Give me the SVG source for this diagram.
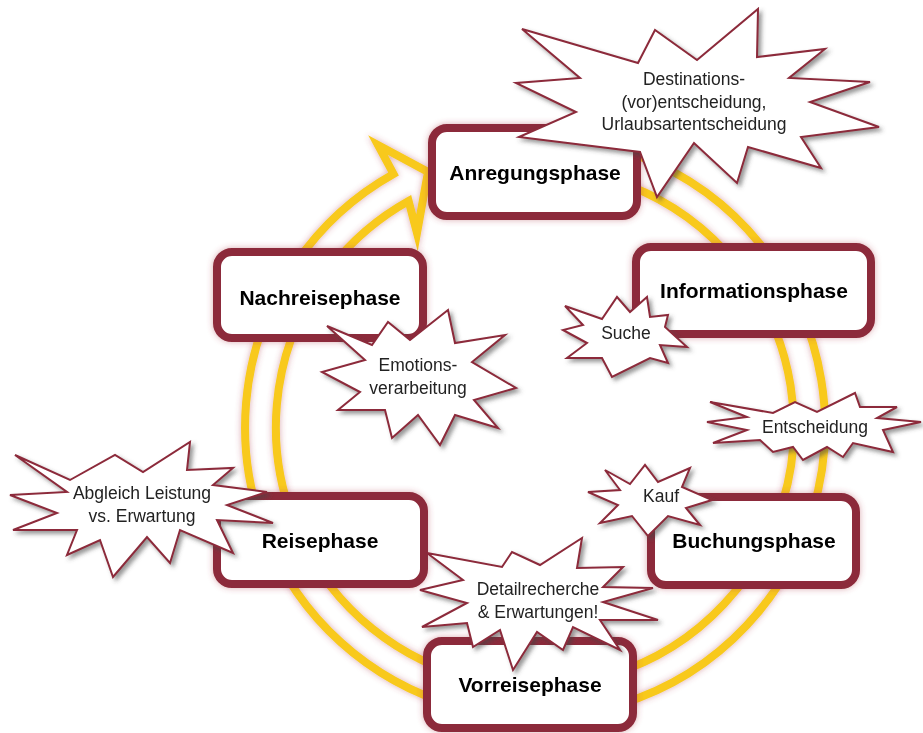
<svg xmlns="http://www.w3.org/2000/svg" width="923" height="733" viewBox="0 0 923 733">
<defs>
<filter id="glow" x="-20%" y="-20%" width="140%" height="140%">
<feDropShadow dx="0" dy="0" stdDeviation="3" flood-color="#b0404f" flood-opacity="0.45"/>
</filter>
<filter id="shadow" x="-20%" y="-20%" width="140%" height="140%">
<feDropShadow dx="3" dy="3" stdDeviation="2" flood-color="#444" flood-opacity="0.55"/>
</filter>
<style>
.ring{fill:none;stroke:#F8C91A;stroke-width:8;stroke-linejoin:miter;stroke-miterlimit:10}
.box{fill:#fff;stroke:#8C2A3A;stroke-width:8}
.burst{fill:#fff;stroke:#8C2A3A;stroke-width:2;stroke-linejoin:miter}
.bt{font-family:"Liberation Sans",Arial,sans-serif;font-weight:bold;font-size:21px;fill:#000;text-anchor:middle}
.st{font-family:"Liberation Sans",Arial,sans-serif;font-size:17.5px;fill:#222;text-anchor:middle}
</style>
</defs>
<rect width="923" height="733" fill="#fff"/>
<g id="connectors" filter="url(#glow)">
<path class="ring" d="M509.7,138.1 A290,290 0 1 1 393.5,173.9 L378,145 L428,172 L417,233 L408.6,200.9 A259,259 0 1 0 512.4,169"/>
</g>
<g id="anregungsphase" filter="url(#glow)">
<rect class="box" x="432" y="128" width="205" height="88" rx="15"/>
<text class="bt" x="535" y="180">Anregungsphase</text>
</g>
<g id="informationsphase" filter="url(#glow)">
<rect class="box" x="636" y="247" width="235" height="87" rx="15"/>
<text class="bt" x="754" y="298">Informationsphase</text>
</g>
<g id="nachreisephase" filter="url(#glow)">
<rect class="box" x="217" y="252" width="206" height="86" rx="15"/>
<text class="bt" x="320" y="305">Nachreisephase</text>
</g>
<g id="reisephase" filter="url(#glow)">
<rect class="box" x="217" y="496" width="207" height="88" rx="15"/>
<text class="bt" x="320" y="548">Reisephase</text>
</g>
<g id="buchungsphase" filter="url(#glow)">
<rect class="box" x="651" y="497" width="205" height="88" rx="15"/>
<text class="bt" x="754" y="548">Buchungsphase</text>
</g>
<g id="vorreisephase" filter="url(#glow)">
<rect class="box" x="427" y="641" width="206" height="87" rx="15"/>
<text class="bt" x="530" y="692">Vorreisephase</text>
</g>
<g id="burst-destinations" filter="url(#shadow)">
<polygon class="burst" points="522,29 638,63 655,30 697,60 758,9 757,57 825,49 789,78 870,82 810,102 879,127 801,137 821,168 748,147 737,183 694,143 657,197 640,152 519,137 576,112 516,83 580,78"/>
<text class="st" x="694" y="85">Destinations-</text>
<text class="st" x="694" y="108">(vor)entscheidung,</text>
<text class="st" x="694" y="130">Urlaubsartentscheidung</text>
</g>
<g id="burst-suche" filter="url(#shadow)">
<polygon class="burst" points="565,306 602,319 617,297 630,312 647,297 650,317 668,315 665,327 687,347 660,345 668,363 650,358 612,377 602,358 567,358 587,343 563,330 583,325"/>
<text class="st" x="626" y="339">Suche</text>
</g>
<g id="burst-entscheidung" filter="url(#shadow)">
<polygon class="burst" points="710,402 773,413 795,402 817,412 855,393 860,407 897,407 877,418 921,422 883,430 893,452 853,443 843,457 827,447 803,460 793,447 773,452 760,440 713,443 747,430 707,422 747,417"/>
<text class="st" x="815" y="433">Entscheidung</text>
</g>
<g id="burst-kauf" filter="url(#shadow)">
<polygon class="burst" points="605,470 630,484 645,465 658,482 690,468 682,487 712,500 686,508 700,525 668,516 648,536 632,516 600,523 618,505 588,492 620,490"/>
<text class="st" x="661" y="502">Kauf</text>
</g>
<g id="burst-emotions" filter="url(#shadow)">
<polygon class="burst" points="327,326 372,345 388,322 410,340 448,310 455,343 505,335 472,362 516,388 474,400 498,428 455,415 440,445 418,415 392,438 385,410 338,410 360,392 322,372 365,360"/>
<text class="st" x="418" y="371">Emotions-</text>
<text class="st" x="418" y="394">verarbeitung</text>
</g>
<g id="burst-abgleich" filter="url(#shadow)">
<polygon class="burst" points="15,455 70,480 115,455 143,472 190,442 187,470 233,468 213,485 267,492 227,505 273,523 217,520 233,553 180,530 170,563 147,537 113,577 100,540 67,555 77,530 13,530 57,513 10,495 67,492"/>
<text class="st" x="142" y="499">Abgleich Leistung</text>
<text class="st" x="142" y="522">vs. Erwartung</text>
</g>
<g id="burst-detail" filter="url(#shadow)">
<polygon class="burst" points="427,553 502,567 512,552 540,565 582,538 577,568 623,567 603,587 653,588 603,602 658,620 600,620 620,650 573,627 563,650 537,632 513,670 500,630 473,647 467,623 422,627 467,603 420,590 463,580"/>
<text class="st" x="538" y="595">Detailrecherche</text>
<text class="st" x="538" y="618">&amp; Erwartungen!</text>
</g>
</svg>
